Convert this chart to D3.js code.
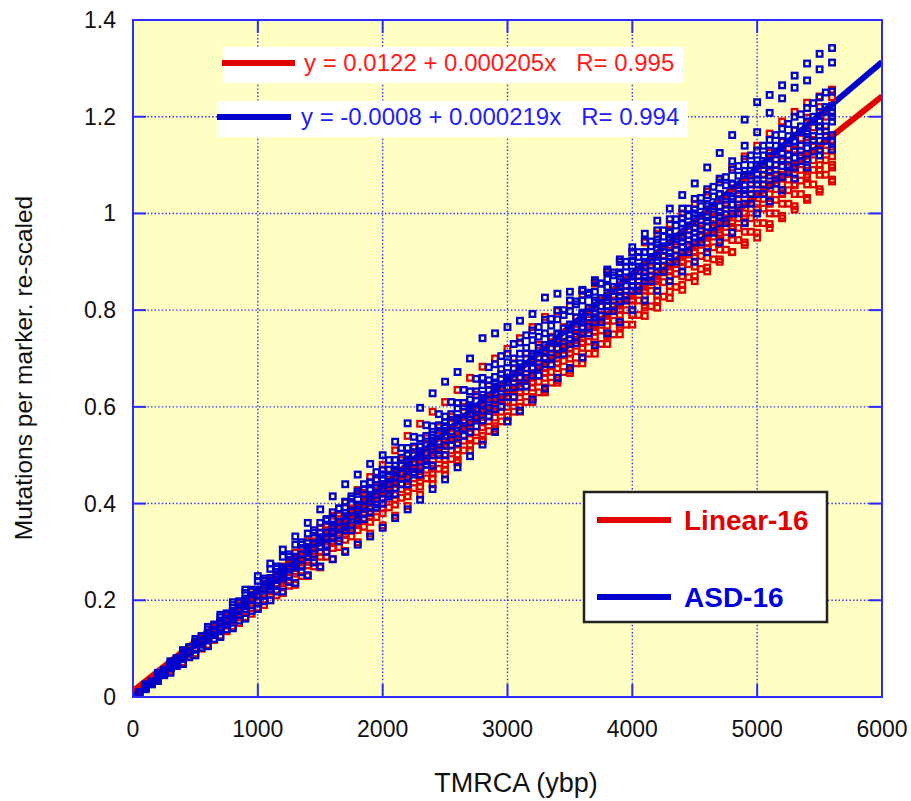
<!DOCTYPE html>
<html><head><meta charset="utf-8">
<script src="https://cdn.jsdelivr.net/npm/d3@7"></script>
<style>
html,body{margin:0;padding:0;background:#fff;}
svg{display:block;font-family:"Liberation Sans",Arial,sans-serif;}
</style></head>
<body><svg id="c" width="911" height="801"></svg>
<script>
// ---- data ----
// sampling grid A (every 100 ybp) and grid B (offset by 50 ybp)
const xYearsA = [0,100,200,300,400,500,600,700,800,900,1000,1100,1200,1300,1400,1500,1600,1700,1800,1900,2000,2100,2200,2300,2400,2500,2600,2700,2800,2900,3000,3100,3200,3300,3400,3500,3600,3700,3800,3900,4000,4100,4200,4300,4400,4500,4600,4700,4800,4900,5000,5100,5200,5300,5400,5500,5600];
const xYearsB = [50,150,250,350,450,550,650,750,850,950,1050,1150,1250,1350,1450,1550,1650,1750,1850,1950,2050,2150,2250,2350,2450,2550,2650,2750,2850,2950,3050,3150,3250,3350,3450,3550,3650,3750,3850,3950,4050,4150,4250,4350,4450,4550,4650,4750,4850,4950,5050,5150,5250,5350,5450,5550];

// Linear-16 runs on grid A
const linearSeriesA = [
 [0,0.022,0.046,0.066,0.09,0.11,0.132,0.153,0.175,0.198,0.22,0.245,0.27,0.298,0.322,0.35,0.375,0.402,0.428,0.455,0.48,0.51,0.54,0.565,0.59,0.61,0.635,0.66,0.683,0.7,0.72,0.742,0.765,0.786,0.798,0.81,0.832,0.855,0.878,0.9,0.92,0.94,0.958,0.978,1.0,1.02,1.045,1.07,1.095,1.118,1.14,1.165,1.19,1.21,1.229,1.242,1.256],
 [0,0.02,0.041,0.062,0.08,0.1,0.122,0.142,0.165,0.188,0.21,0.232,0.252,0.275,0.298,0.32,0.345,0.368,0.392,0.418,0.44,0.462,0.485,0.508,0.53,0.55,0.572,0.595,0.618,0.64,0.66,0.68,0.7,0.72,0.74,0.76,0.782,0.805,0.828,0.85,0.87,0.892,0.915,0.935,0.958,0.98,1.005,1.028,1.052,1.075,1.1,1.125,1.148,1.172,1.198,1.22,1.24],
 [0,0.024,0.044,0.068,0.088,0.11,0.13,0.155,0.175,0.198,0.22,0.242,0.265,0.288,0.31,0.33,0.35,0.372,0.39,0.41,0.43,0.45,0.47,0.49,0.51,0.53,0.552,0.575,0.598,0.618,0.64,0.66,0.68,0.7,0.72,0.74,0.762,0.785,0.808,0.83,0.85,0.87,0.89,0.91,0.93,0.95,0.972,0.995,1.018,1.04,1.06,1.085,1.108,1.132,1.158,1.18,1.2],
 [0,0.02,0.042,0.06,0.082,0.1,0.12,0.14,0.162,0.18,0.2,0.222,0.245,0.268,0.29,0.31,0.33,0.35,0.37,0.39,0.41,0.432,0.455,0.478,0.5,0.52,0.54,0.56,0.58,0.6,0.62,0.64,0.66,0.68,0.7,0.72,0.742,0.765,0.788,0.81,0.83,0.85,0.87,0.89,0.91,0.93,0.952,0.975,0.998,1.02,1.04,1.06,1.08,1.1,1.12,1.14,1.152],
 [0,0.022,0.04,0.062,0.08,0.1,0.122,0.145,0.165,0.188,0.21,0.23,0.25,0.27,0.29,0.31,0.328,0.345,0.365,0.382,0.4,0.418,0.44,0.46,0.48,0.5,0.522,0.545,0.568,0.59,0.61,0.63,0.65,0.67,0.69,0.71,0.732,0.755,0.778,0.8,0.82,0.84,0.86,0.88,0.9,0.92,0.94,0.96,0.98,1.0,1.02,1.04,1.06,1.08,1.1,1.12,1.138],
 [0,0.018,0.04,0.058,0.08,0.1,0.118,0.14,0.16,0.18,0.2,0.22,0.24,0.26,0.28,0.3,0.322,0.342,0.36,0.38,0.4,0.418,0.435,0.455,0.472,0.49,0.512,0.535,0.558,0.578,0.6,0.62,0.64,0.66,0.68,0.7,0.722,0.745,0.768,0.79,0.81,0.83,0.85,0.87,0.89,0.91,0.928,0.945,0.962,0.982,1.0,1.02,1.04,1.06,1.08,1.1,1.118],
 [0,0.024,0.046,0.068,0.09,0.11,0.13,0.15,0.17,0.19,0.21,0.23,0.25,0.27,0.29,0.31,0.332,0.355,0.378,0.4,0.42,0.44,0.46,0.48,0.5,0.52,0.542,0.565,0.588,0.61,0.63,0.65,0.67,0.69,0.71,0.73,0.75,0.77,0.79,0.81,0.83,0.848,0.865,0.882,0.9,0.92,0.938,0.955,0.972,0.99,1.01,1.025,1.042,1.058,1.075,1.09,1.1],
 [0,0.02,0.04,0.062,0.08,0.1,0.12,0.14,0.16,0.18,0.2,0.222,0.242,0.26,0.28,0.3,0.318,0.335,0.355,0.372,0.39,0.408,0.425,0.445,0.462,0.48,0.5,0.52,0.54,0.56,0.58,0.6,0.62,0.64,0.66,0.68,0.702,0.725,0.748,0.77,0.79,0.81,0.83,0.85,0.87,0.89,0.908,0.925,0.945,0.962,0.98,1.0,1.02,1.04,1.06,1.08,1.095],
 [0,0.02,0.04,0.06,0.08,0.1,0.12,0.14,0.16,0.18,0.2,0.218,0.235,0.255,0.272,0.29,0.308,0.325,0.345,0.362,0.38,0.398,0.415,0.435,0.452,0.47,0.49,0.51,0.53,0.55,0.57,0.59,0.61,0.63,0.65,0.67,0.69,0.71,0.73,0.75,0.77,0.788,0.805,0.825,0.842,0.86,0.88,0.9,0.92,0.94,0.96,0.978,0.995,1.015,1.032,1.05,1.07],
 [0,0.018,0.036,0.054,0.072,0.09,0.108,0.127,0.146,0.165,0.185,0.2,0.215,0.232,0.25,0.268,0.285,0.302,0.32,0.338,0.355,0.375,0.395,0.418,0.44,0.46,0.485,0.51,0.532,0.555,0.58,0.6,0.62,0.635,0.655,0.675,0.7,0.722,0.745,0.765,0.79,0.805,0.82,0.838,0.852,0.87,0.888,0.905,0.92,0.935,0.95,0.97,0.99,1.008,1.028,1.045,1.066]
];
// Linear-16 runs on grid B
const linearSeriesB = [
 [0.01,0.03,0.053,0.072,0.096,0.118,0.138,0.162,0.18,0.204,0.225,0.245,0.27,0.29,0.31,0.335,0.355,0.375,0.398,0.418,0.44,0.46,0.482,0.5,0.525,0.545,0.568,0.585,0.608,0.63,0.65,0.668,0.69,0.708,0.73,0.748,0.77,0.79,0.81,0.828,0.85,0.872,0.89,0.912,0.93,0.952,0.97,0.99,1.012,1.03,1.05,1.072,1.095,1.115,1.138,1.16],
 [0.012,0.034,0.055,0.078,0.1,0.124,0.145,0.168,0.19,0.212,0.235,0.258,0.282,0.305,0.33,0.352,0.375,0.4,0.422,0.448,0.47,0.49,0.515,0.535,0.558,0.58,0.6,0.625,0.645,0.668,0.69,0.71,0.728,0.745,0.765,0.785,0.802,0.82,0.84,0.862,0.88,0.9,0.922,0.942,0.965,0.985,1.005,1.028,1.048,1.07,1.09,1.112,1.135,1.155,1.178,1.2],
 [0.01,0.028,0.05,0.07,0.088,0.11,0.13,0.148,0.17,0.19,0.21,0.23,0.248,0.27,0.29,0.31,0.328,0.35,0.37,0.39,0.41,0.43,0.452,0.47,0.492,0.51,0.53,0.548,0.57,0.59,0.61,0.632,0.652,0.672,0.695,0.715,0.735,0.758,0.778,0.8,0.82,0.84,0.858,0.875,0.895,0.912,0.93,0.95,0.97,0.99,1.01,1.028,1.048,1.068,1.09,1.11],
 [0.01,0.028,0.046,0.064,0.082,0.1,0.118,0.136,0.153,0.172,0.19,0.21,0.23,0.25,0.27,0.29,0.31,0.332,0.352,0.372,0.392,0.412,0.432,0.452,0.472,0.492,0.51,0.53,0.55,0.57,0.59,0.61,0.63,0.65,0.672,0.69,0.71,0.73,0.75,0.77,0.79,0.808,0.828,0.848,0.868,0.885,0.905,0.925,0.945,0.962,0.98,1.0,1.02,1.04,1.06,1.08],
 [0.012,0.033,0.056,0.078,0.1,0.12,0.142,0.165,0.185,0.208,0.23,0.252,0.275,0.298,0.322,0.345,0.368,0.39,0.415,0.438,0.46,0.48,0.5,0.52,0.54,0.565,0.58,0.592,0.62,0.64,0.66,0.68,0.7,0.72,0.735,0.76,0.78,0.808,0.82,0.84,0.86,0.882,0.902,0.925,0.945,0.968,0.99,1.01,1.03,1.05,1.07,1.09,1.11,1.13,1.152,1.17],
 [0.011,0.032,0.05,0.072,0.092,0.112,0.132,0.155,0.175,0.195,0.215,0.235,0.258,0.278,0.3,0.322,0.345,0.365,0.388,0.41,0.43,0.452,0.472,0.492,0.512,0.535,0.555,0.575,0.595,0.615,0.635,0.655,0.678,0.698,0.718,0.738,0.76,0.78,0.8,0.82,0.84,0.858,0.878,0.895,0.915,0.935,0.952,0.972,0.99,1.01,1.03,1.05,1.07,1.09,1.11,1.13]
];

// ASD-16 runs on grid A
const asdSeriesA = [
 [0,0.026,0.05,0.074,0.097,0.12,0.145,0.17,0.196,0.222,0.25,0.276,0.305,0.332,0.36,0.388,0.415,0.44,0.46,0.482,0.5,0.528,0.566,0.598,0.628,0.652,0.672,0.7,0.742,0.752,0.765,0.778,0.792,0.826,0.834,0.838,0.842,0.858,0.884,0.905,0.93,0.958,0.985,1.01,1.038,1.062,1.095,1.125,1.162,1.194,1.23,1.245,1.265,1.285,1.31,1.33,1.342],
 [0,0.02,0.045,0.063,0.09,0.108,0.128,0.155,0.172,0.2,0.222,0.238,0.265,0.29,0.305,0.328,0.352,0.381,0.398,0.428,0.452,0.47,0.5,0.518,0.548,0.568,0.597,0.615,0.645,0.662,0.692,0.71,0.738,0.752,0.781,0.798,0.82,0.838,0.864,0.878,0.903,0.92,0.946,0.962,0.99,1.008,1.038,1.064,1.108,1.14,1.168,1.208,1.238,1.26,1.275,1.298,1.312],
 [0,0.021,0.046,0.064,0.088,0.11,0.13,0.152,0.178,0.197,0.22,0.246,0.268,0.29,0.318,0.34,0.368,0.392,0.42,0.443,0.47,0.49,0.515,0.535,0.56,0.58,0.608,0.632,0.66,0.688,0.71,0.733,0.758,0.78,0.8,0.82,0.84,0.862,0.88,0.9,0.92,0.943,0.965,0.988,1.01,1.03,1.05,1.072,1.09,1.112,1.13,1.152,1.175,1.2,1.218,1.24,1.252],
 [0,0.023,0.042,0.067,0.089,0.11,0.128,0.153,0.175,0.2,0.22,0.24,0.262,0.288,0.31,0.33,0.35,0.374,0.395,0.418,0.44,0.465,0.485,0.508,0.53,0.55,0.575,0.598,0.625,0.648,0.67,0.69,0.71,0.728,0.752,0.77,0.792,0.815,0.835,0.858,0.88,0.9,0.925,0.945,0.968,0.99,1.015,1.04,1.062,1.088,1.11,1.13,1.15,1.172,1.19,1.21,1.222],
 [0,0.02,0.04,0.061,0.08,0.1,0.123,0.143,0.168,0.188,0.21,0.232,0.255,0.275,0.298,0.32,0.34,0.363,0.385,0.41,0.43,0.452,0.472,0.497,0.518,0.54,0.562,0.585,0.605,0.628,0.65,0.672,0.695,0.715,0.738,0.76,0.782,0.805,0.826,0.848,0.87,0.888,0.91,0.93,0.95,0.97,0.992,1.015,1.035,1.058,1.08,1.102,1.125,1.148,1.17,1.19,1.208],
 [0,0.024,0.048,0.07,0.092,0.115,0.14,0.165,0.19,0.215,0.24,0.265,0.29,0.315,0.338,0.36,0.382,0.404,0.425,0.444,0.46,0.478,0.503,0.518,0.542,0.56,0.577,0.603,0.618,0.642,0.66,0.675,0.698,0.712,0.735,0.75,0.775,0.792,0.82,0.838,0.86,0.878,0.903,0.918,0.942,0.96,0.985,1.002,1.03,1.048,1.07,1.088,1.112,1.128,1.152,1.17,1.19],
 [0,0.018,0.042,0.06,0.082,0.1,0.122,0.145,0.165,0.19,0.21,0.228,0.25,0.27,0.29,0.31,0.33,0.352,0.37,0.392,0.41,0.432,0.455,0.475,0.5,0.52,0.545,0.568,0.592,0.615,0.64,0.66,0.68,0.702,0.72,0.74,0.765,0.785,0.808,0.828,0.85,0.868,0.89,0.91,0.93,0.95,0.972,0.995,1.018,1.04,1.06,1.078,1.098,1.115,1.135,1.15,1.162],
 [0,0.02,0.038,0.062,0.08,0.1,0.118,0.14,0.16,0.182,0.2,0.222,0.245,0.268,0.29,0.31,0.328,0.345,0.365,0.382,0.4,0.42,0.44,0.46,0.478,0.5,0.525,0.548,0.572,0.595,0.62,0.642,0.665,0.688,0.708,0.73,0.752,0.775,0.798,0.818,0.84,0.86,0.88,0.9,0.92,0.94,0.96,0.98,1.0,1.02,1.04,1.058,1.075,1.095,1.112,1.13,1.148],
 [0,0.022,0.045,0.068,0.088,0.11,0.132,0.155,0.175,0.198,0.22,0.24,0.26,0.28,0.3,0.32,0.342,0.365,0.388,0.41,0.43,0.455,0.478,0.502,0.525,0.55,0.572,0.595,0.618,0.64,0.66,0.682,0.705,0.728,0.75,0.77,0.795,0.82,0.848,0.875,0.9,0.92,0.94,0.96,0.98,1.0,1.02,1.04,1.06,1.08,1.1,1.118,1.135,1.15,1.165,1.18,1.2],
 [0,0.016,0.033,0.05,0.068,0.086,0.105,0.124,0.142,0.162,0.182,0.2,0.218,0.236,0.252,0.27,0.285,0.3,0.315,0.332,0.35,0.37,0.388,0.408,0.43,0.45,0.475,0.498,0.522,0.548,0.57,0.592,0.615,0.638,0.66,0.68,0.702,0.728,0.752,0.775,0.8,0.82,0.84,0.86,0.88,0.9,0.92,0.94,0.96,0.98,1.0,1.025,1.048,1.072,1.095,1.12,1.132]
];
// ASD-16 runs on grid B
const asdSeriesB = [
 [0.01,0.032,0.055,0.08,0.103,0.126,0.15,0.173,0.198,0.222,0.245,0.27,0.295,0.32,0.345,0.368,0.39,0.41,0.43,0.45,0.47,0.495,0.518,0.54,0.562,0.585,0.608,0.632,0.655,0.678,0.7,0.722,0.745,0.768,0.79,0.812,0.832,0.855,0.878,0.9,0.92,0.942,0.965,0.988,1.01,1.032,1.055,1.075,1.098,1.12,1.14,1.162,1.185,1.205,1.228,1.25],
 [0.01,0.03,0.052,0.075,0.095,0.118,0.138,0.16,0.182,0.203,0.225,0.248,0.27,0.295,0.318,0.34,0.362,0.385,0.408,0.432,0.455,0.478,0.5,0.522,0.545,0.568,0.59,0.612,0.635,0.658,0.68,0.7,0.722,0.742,0.762,0.785,0.805,0.825,0.848,0.868,0.89,0.91,0.932,0.952,0.975,0.995,1.015,1.035,1.058,1.078,1.1,1.122,1.145,1.168,1.19,1.21],
 [0.01,0.03,0.052,0.072,0.093,0.115,0.135,0.157,0.178,0.2,0.22,0.242,0.265,0.285,0.308,0.33,0.352,0.373,0.395,0.418,0.44,0.462,0.485,0.505,0.528,0.55,0.572,0.595,0.615,0.638,0.66,0.68,0.702,0.722,0.745,0.765,0.785,0.808,0.828,0.85,0.87,0.892,0.912,0.935,0.955,0.975,0.998,1.018,1.04,1.06,1.08,1.1,1.12,1.14,1.16,1.18],
 [0.008,0.026,0.045,0.064,0.083,0.102,0.12,0.14,0.158,0.178,0.198,0.218,0.238,0.258,0.278,0.3,0.322,0.345,0.368,0.392,0.415,0.44,0.465,0.488,0.51,0.532,0.555,0.578,0.598,0.62,0.64,0.66,0.682,0.702,0.725,0.745,0.765,0.788,0.808,0.83,0.85,0.87,0.892,0.912,0.935,0.955,0.975,0.998,1.018,1.04,1.06,1.08,1.1,1.12,1.14,1.16],
 [0.01,0.032,0.056,0.08,0.102,0.125,0.148,0.17,0.195,0.218,0.24,0.265,0.29,0.315,0.34,0.365,0.39,0.415,0.44,0.465,0.49,0.515,0.538,0.562,0.585,0.61,0.635,0.658,0.682,0.705,0.73,0.748,0.765,0.782,0.8,0.818,0.836,0.855,0.872,0.89,0.91,0.932,0.952,0.975,0.995,1.015,1.035,1.058,1.078,1.1,1.12,1.14,1.16,1.18,1.2,1.22],
 [0.01,0.028,0.048,0.068,0.09,0.108,0.128,0.15,0.17,0.19,0.21,0.232,0.252,0.272,0.295,0.315,0.335,0.355,0.378,0.398,0.42,0.44,0.46,0.48,0.5,0.52,0.54,0.56,0.58,0.6,0.62,0.642,0.665,0.688,0.71,0.732,0.752,0.775,0.798,0.82,0.84,0.86,0.88,0.9,0.92,0.94,0.96,0.98,1.0,1.02,1.04,1.062,1.085,1.108,1.128,1.15]
];

const fitLinear = [0.0122, 0.000205];   // intercept, slope
const fitASD = [-0.0008, 0.000219];
const fitRange = [0, 6000];
const eqLabels = ["y = 0.0122 + 0.000205x   R= 0.995", "y = -0.0008 + 0.000219x   R= 0.994"];
const legendLabels = ["Linear-16", "ASD-16"];
const xTicks = [0,1000,2000,3000,4000,5000,6000];
const yTicks = [0,0.2,0.4,0.6,0.8,1,1.2,1.4];
const xTitle = "TMRCA (ybp)";
const yTitle = "Mutations per marker. re-scaled";

// ---- styles ----
const RED = "#e00000", BLUE = "#0000cc", AXIS = "#2b2bff";
const svg = d3.select("#c");
const L = 133, R = 882, T = 20, B = 697;
const x = d3.scaleLinear().domain([0,6000]).range([L,R]);
const y = d3.scaleLinear().domain([0,1.4]).range([B,T]);

svg.append("rect").attr("x",L).attr("y",T).attr("width",R-L).attr("height",B-T).attr("fill","#ffffc4");

// gridlines
const grid = svg.append("g").attr("stroke",AXIS).attr("stroke-width",1.4).attr("stroke-dasharray","1.4,2.2");
grid.selectAll(".vg").data(xTicks.slice(1,-1)).join("line")
  .attr("x1",d=>x(d)).attr("x2",d=>x(d)).attr("y1",T).attr("y2",B);
grid.selectAll(".hg").data(yTicks.slice(1,-1)).join("line")
  .attr("y1",d=>y(d)).attr("y2",d=>y(d)).attr("x1",L).attr("x2",R);

// equation boxes
const eqs = [
  {txt:eqLabels[0], col:RED, tcol:"#ff1a1a", bx:223, by:47, bw:460, bh:36, lx1:222, lx2:295, ly:63, tx:304},
  {txt:eqLabels[1], col:BLUE, tcol:"#2222ee", bx:217, by:101, bw:471, bh:36, lx1:217, lx2:291, ly:117, tx:301}
];
eqs.forEach(e=>{
  svg.append("rect").attr("x",e.bx).attr("y",e.by).attr("width",e.bw).attr("height",e.bh).attr("fill","#fff");
  svg.append("line").attr("x1",e.lx1).attr("x2",e.lx2).attr("y1",e.ly).attr("y2",e.ly).attr("stroke",e.col).attr("stroke-width",6);
  svg.append("text").attr("x",e.tx).attr("y",e.ly+8).attr("fill",e.tcol).attr("font-size",24)
    .style("white-space","pre").text(e.txt);
});

const clip = svg.append("clipPath").attr("id","pc").append("rect").attr("x",L).attr("y",T).attr("width",R-L).attr("height",B-T);
const mk = svg.append("g").attr("clip-path","url(#pc)");

// regression lines (under markers)
[[fitLinear,RED],[fitASD,BLUE]].forEach(([f,c])=>{
  mk.append("line").attr("x1",x(fitRange[0])).attr("y1",y(f[0]+f[1]*fitRange[0]))
    .attr("x2",x(fitRange[1])).attr("y2",y(f[0]+f[1]*fitRange[1]))
    .attr("stroke",c).attr("stroke-width",6);
});

// markers
const S = 5.6;
function drawSeries(arr, xs, col){
  arr.forEach(s=>{
    mk.append("g").selectAll("rect").data(s).join("rect")
      .attr("x",(d,i)=>x(xs[i])-S/2).attr("y",d=>y(d)-S/2)
      .attr("width",S).attr("height",S).attr("fill","none")
      .attr("stroke",col).attr("stroke-width",2.3);
  });
}
drawSeries(linearSeriesA, xYearsA, RED);
drawSeries(linearSeriesB, xYearsB, RED);
drawSeries(asdSeriesA, xYearsA, BLUE);
drawSeries(asdSeriesB, xYearsB, BLUE);

// frame & ticks
svg.append("rect").attr("x",L).attr("y",T).attr("width",R-L).attr("height",B-T).attr("fill","none").attr("stroke",AXIS).attr("stroke-width",2);
const tk = svg.append("g").attr("stroke",AXIS).attr("stroke-width",2);
const TL = 13;
xTicks.forEach(v=>{
  tk.append("line").attr("x1",x(v)).attr("x2",x(v)).attr("y1",B).attr("y2",B-TL);
  tk.append("line").attr("x1",x(v)).attr("x2",x(v)).attr("y1",T).attr("y2",T+TL);
});
yTicks.forEach(v=>{
  tk.append("line").attr("y1",y(v)).attr("y2",y(v)).attr("x1",L).attr("x2",L+TL);
  tk.append("line").attr("y1",y(v)).attr("y2",y(v)).attr("x1",R).attr("x2",R-TL);
});

// tick labels
svg.append("g").selectAll("text").data(xTicks).join("text")
  .attr("x",d=>x(d)).attr("y",737).attr("text-anchor","middle").attr("font-size",23).attr("fill","#111").text(d=>d);
svg.append("g").selectAll("text").data(yTicks).join("text")
  .attr("x",116).attr("y",d=>y(d)+8).attr("text-anchor","end").attr("font-size",23).attr("fill","#111").text(d=>d);

// titles
svg.append("text").attr("x",516).attr("y",792).attr("text-anchor","middle").attr("font-size",27).attr("fill","#111").text(xTitle);
svg.append("text").attr("transform","translate(32,368) rotate(-90)").attr("text-anchor","middle").attr("font-size",24.5).attr("fill","#111").text(yTitle);

// legend
const lg = svg.append("g");
lg.append("rect").attr("x",584).attr("y",492).attr("width",243).attr("height",130).attr("fill","#fff").attr("stroke","#222").attr("stroke-width",2.5);
[[RED,520,"#e00000"],[BLUE,597,"#0000dd"]].forEach(([c,ly,tc],i)=>{
  lg.append("line").attr("x1",597).attr("x2",671).attr("y1",ly).attr("y2",ly).attr("stroke",c).attr("stroke-width",6);
  lg.append("text").attr("x",684).attr("y",ly+10).attr("fill",tc).attr("font-size",28).attr("font-weight","bold").text(legendLabels[i]);
});
</script></body></html>
